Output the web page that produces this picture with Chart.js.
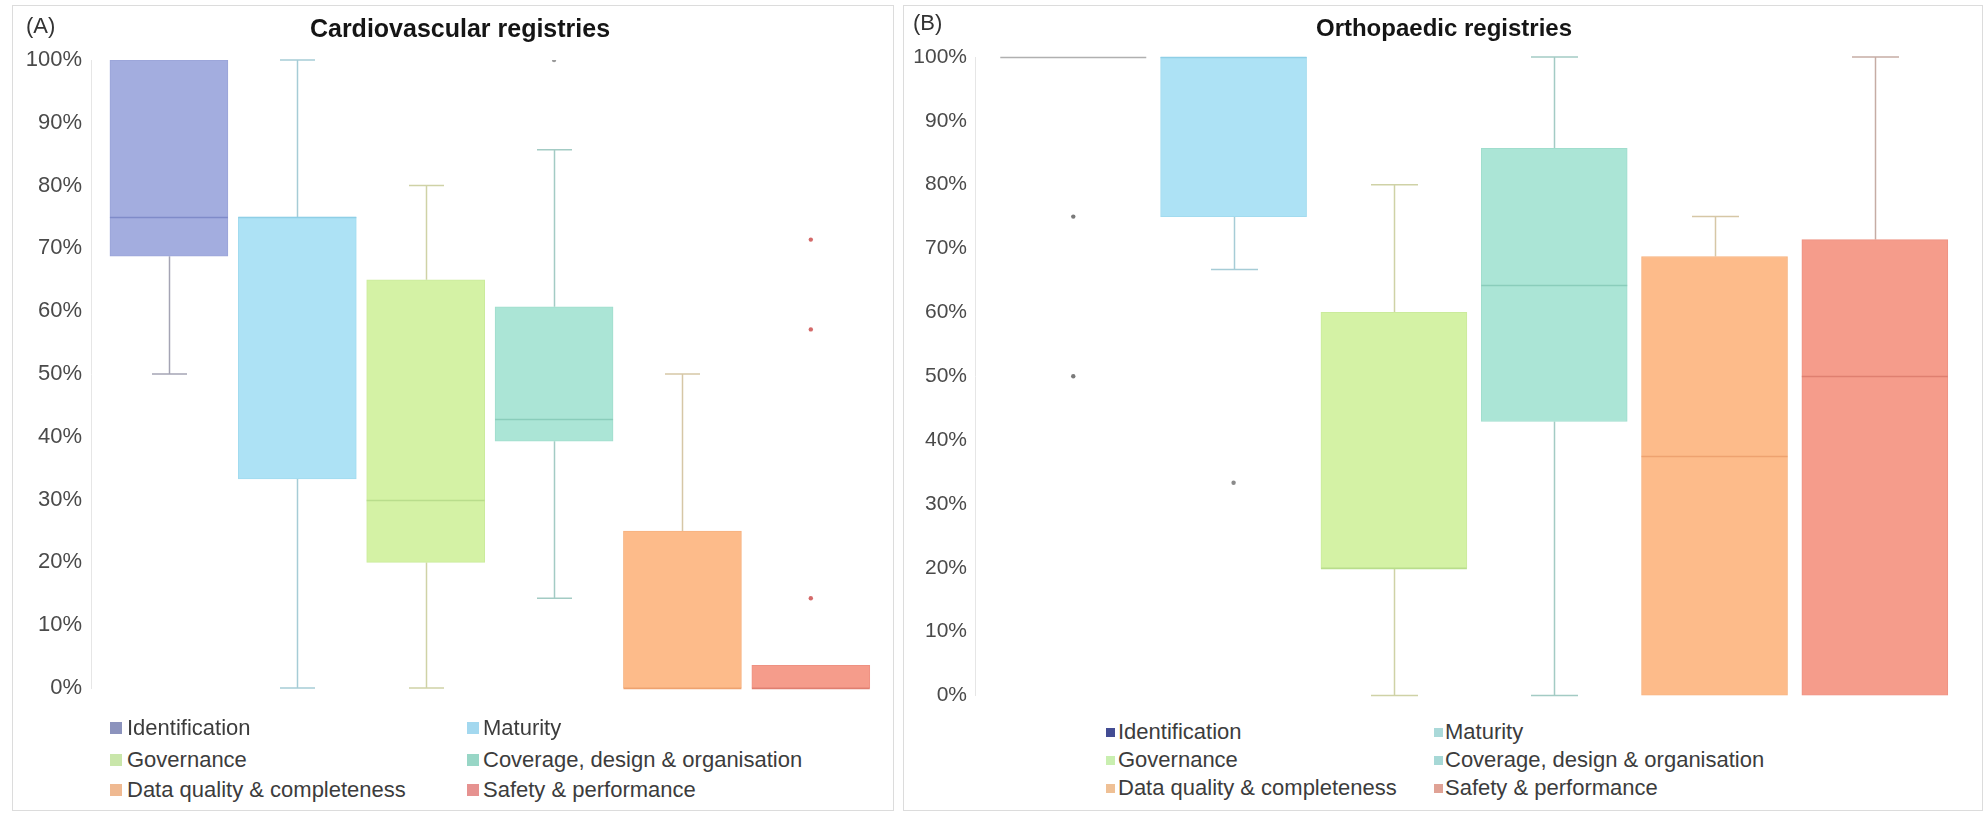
<!DOCTYPE html>
<html>
<head>
<meta charset="utf-8">
<script src="https://cdn.jsdelivr.net/npm/chart.js@4.4.1/dist/chart.umd.min.js"></script>
<style>
  html, body { margin: 0; padding: 0; background: #fff; width: 1985px; height: 817px; overflow: hidden;
    font-family: "Liberation Sans", Arial, sans-serif; }
  .panel { position: absolute; border: 1px solid #dcdcdc; box-sizing: border-box; }
  canvas { position: absolute; }
  .txt { position: absolute; white-space: nowrap; line-height: 1; }
  .title { font-weight: bold; color: #151515; transform: translateX(-50%); }
  .tag { color: #333; }
  .sw { position: absolute; }
  .leg { position: absolute; white-space: nowrap; line-height: 1; color: #3c3c3c; }
</style>
</head>
<body>
<div class="panel" style="left:12px;top:5px;width:882px;height:806px"></div>
<div class="panel" style="left:903px;top:5px;width:1080px;height:806px"></div>

<canvas id="cvChart" width="893" height="716" style="left:0;top:0"></canvas>
<canvas id="orChart" width="1082" height="716" style="left:903px;top:0"></canvas>

<div class="txt tag" style="left:26px;top:15px;font-size:22px">(A)</div>
<div class="txt title" style="left:460px;top:16px;font-size:25px">Cardiovascular registries</div>
<div class="txt tag" style="left:913px;top:12px;font-size:22px">(B)</div>
<div class="txt title" style="left:1444px;top:16px;font-size:24px">Orthopaedic registries</div>

<div id="legA"></div>
<div id="legB"></div>

<script>
// Domains scored for each registry group
const categories = [
  'Identification',
  'Maturity',
  'Governance',
  'Coverage, design & organisation',
  'Data quality & completeness',
  'Safety & performance'
];

// Cardiovascular registries: five-number summaries (%) and outliers
const cvMin     = [50,    0,    0,  14.3,  0,   0];
const cvQ1      = [68.75, 33.3, 20, 39.3,  0,   0];
const cvMedian  = [75,    75,   30, 42.9,  0,   0];
const cvQ3      = [100,   75,   65, 60.7,  25,  3.6];
const cvMax     = [100,   100,  80, 85.7,  50,  3.6];
const cvOutliers = [[], [], [], [100], [], [71.4, 57.1, 14.3]];

// Orthopaedic registries: five-number summaries (%) and outliers
const orMin     = [100, 66.7, 0,  0,    0,     0];
const orQ1      = [100, 75,   20, 42.9, 0,     0];
const orMedian  = [100, 100,  20, 64.3, 37.5,  50];
const orQ3      = [100, 100,  60, 85.7, 68.75, 71.4];
const orMax     = [100, 100,  80, 100,  75,    100];
const orOutliers = [[75, 50], [33.3], [], [], [], []];

// Shared colours
const boxColors     = ['#a3addf', '#ade2f5', '#d4f2a5', '#abe5d6', '#fdbb8a', '#f59c8b'];
const boxBorders    = ['#9aa4d8', '#a2dbef', '#cbeb9c', '#a0ddcd', '#f6b27f', '#ee9182'];
const medianColors  = ['#7f8bc9', '#8fcfe6', '#b9dd8c', '#8acdbb', '#eea270', '#df7f70'];
const whiskerColors = ['#a4a4b4', '#a6ccd6', '#cfd2a6', '#a3cbc4', '#d6c7a6', '#c6aca4'];

function boxPlugin(stats, style) {
  return {
    id: 'boxStats',
    beforeDatasetsDraw(chart) {
      const ctx = chart.ctx, xs = chart.scales.x, ys = chart.scales.y;
      ctx.save();
      ctx.lineWidth = 1.5;
      categories.forEach((c, i) => {
        const cx = Math.round(xs.getPixelForValue(i)) + 0.5;
        ctx.strokeStyle = whiskerColors[i];
        const half = style.capWidth / 2;
        const seg = (a, b) => {
          const ya = ys.getPixelForValue(a), yb = ys.getPixelForValue(b);
          ctx.beginPath(); ctx.moveTo(cx, ya); ctx.lineTo(cx, yb); ctx.stroke();
          ctx.beginPath(); ctx.moveTo(cx - half, yb); ctx.lineTo(cx + half, yb); ctx.stroke();
        };
        if (stats.max[i] > stats.q3[i]) seg(stats.q3[i], stats.max[i]);
        if (stats.min[i] < stats.q1[i]) seg(stats.q1[i], stats.min[i]);
      });
      ctx.restore();
    },
    afterDatasetsDraw(chart) {
      const ctx = chart.ctx, xs = chart.scales.x, ys = chart.scales.y;
      const bars = chart.getDatasetMeta(0).data;
      ctx.save();
      ctx.lineWidth = 1.6;
      categories.forEach((c, i) => {
        const cx = xs.getPixelForValue(i);
        const w = bars[i] ? bars[i].width : style.boxWidth;
        const y = Math.round(ys.getPixelForValue(stats.median[i])) + 0.5;
        ctx.strokeStyle = style.medianColors[i];
        ctx.beginPath(); ctx.moveTo(cx - w / 2, y); ctx.lineTo(cx + w / 2, y); ctx.stroke();
      });
      ctx.restore();
    }
  };
}

function makePanel(id, stats, outliers, style) {
  const points = [], pointColors = [];
  outliers.forEach((vals, i) => vals.forEach(v => {
    points.push({ x: i, y: v });
    pointColors.push(style.outlierColors[i]);
  }));
  return new Chart(document.getElementById(id), {
    type: 'bar',
    data: {
      datasets: [
        {
          type: 'bar',
          data: categories.map((c, i) => ({ x: i, y: [stats.q1[i], stats.q3[i]] })),
          backgroundColor: boxColors,
          borderColor: boxBorders,
          borderWidth: 1,
          borderSkipped: false,
          barThickness: style.boxWidth,
          order: 2
        },
        {
          type: 'scatter',
          data: points,
          pointRadius: 2.2,
          pointBorderWidth: 0,
          pointBackgroundColor: pointColors,
          order: 1
        }
      ]
    },
    options: {
      responsive: false,
      animation: false,
      events: [],
      layout: { padding: style.padding },
      plugins: { legend: { display: false }, tooltip: { enabled: false }, title: { display: false } },
      scales: {
        x: { type: 'linear', display: false, offset: false, grid: { offset: false },
             min: style.xMin, max: style.xMax },
        y: {
          min: 0, max: 100,
          afterFit: s => { s.width = style.axisWidth; },
          grid: { display: false, drawTicks: false },
          border: { display: true, color: '#e6e6e6', width: 1 },
          ticks: {
            stepSize: 10, padding: style.tickPad, color: '#4a4a4a',
            font: { family: '"Liberation Sans", Arial, sans-serif', size: style.tickSize },
            callback: v => v + '%'
          }
        }
      }
    },
    plugins: [boxPlugin(stats, style)]
  });
}

makePanel('cvChart',
  { min: cvMin, q1: cvQ1, median: cvMedian, q3: cvQ3, max: cvMax },
  cvOutliers,
  {
    padding: { left: 0, right: 18, top: 60, bottom: 28 },
    axisWidth: 91, tickPad: 9, tickSize: 22,
    xMin: -0.607, xMax: 5.5, boxWidth: 118, capWidth: 35,
    medianColors: medianColors,
    outlierColors: ['#8a8a8a', '#8a8a8a', '#8a8a8a', '#9a9a9a', '#8a8a8a', '#d46a6a']
  });

makePanel('orChart',
  { min: orMin, q1: orQ1, median: orMedian, q3: orQ3, max: orMax },
  orOutliers,
  {
    padding: { left: 0, right: 30, top: 57, bottom: 20 },
    axisWidth: 72, tickPad: 8, tickSize: 21,
    xMin: -0.613, xMax: 5.5, boxWidth: 146, capWidth: 47,
    medianColors: ['#b0b0b0'].concat(medianColors.slice(1)),
    outlierColors: ['#7a7a7a', '#8a8a8a', '#8a8a8a', '#8a8a8a', '#8a8a8a', '#8a8a8a']
  });

// Two-column legends under each panel
function buildLegend(hostId, cfg) {
  const host = document.getElementById(hostId);
  categories.forEach((name, i) => {
    const col = i % 2, row = Math.floor(i / 2);
    const cy = cfg.rowY[row];
    const sw = document.createElement('div');
    sw.className = 'sw';
    sw.style.cssText = `left:${cfg.swX[col]}px;top:${cy - cfg.sw / 2}px;width:${cfg.sw}px;height:${cfg.sw}px;background:${cfg.colors[i]}`;
    host.appendChild(sw);
    const t = document.createElement('div');
    t.className = 'leg';
    t.textContent = name;
    t.style.cssText = `left:${cfg.textX[col]}px;top:${cy - cfg.size * 0.52}px;font-size:${cfg.size}px`;
    host.appendChild(t);
  });
}

buildLegend('legA', {
  rowY: [728, 760, 790], swX: [110, 467], textX: [127, 483], sw: 12, size: 22,
  colors: ['#8c93bd', '#a3d8ef', '#c9e6aa', '#98d6c6', '#efb991', '#e69290']
});
buildLegend('legB', {
  rowY: [732, 760, 788], swX: [1106, 1434], textX: [1118, 1445], sw: 9, size: 22,
  colors: ['#434c93', '#aad9d9', '#c9efb0', '#a6d8d6', '#efc095', '#e0a295']
});
</script>
</body>
</html>
